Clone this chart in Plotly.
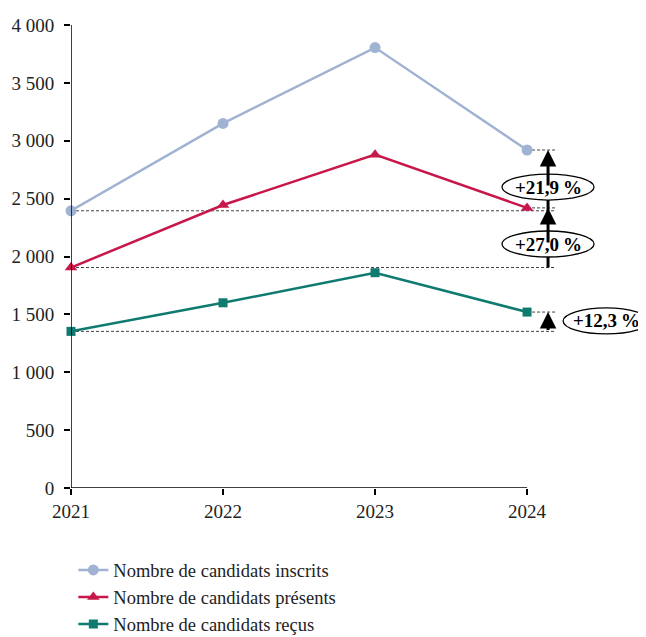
import plotly.graph_objects as go

years = ["2021", "2022", "2023", "2024"]
inscrits = [2395, 3150, 3805, 2920]
presents = [1905, 2445, 2880, 2420]
recus = [1353, 1600, 1860, 1520]

pct_labels = ["+21,9\u202f%", "+27,0\u202f%", "+12,3\u202f%"]

y_ticks = [0, 500, 1000, 1500, 2000, 2500, 3000, 3500, 4000]
y_ticktext = ["0", "500", "1 000", "1 500", "2 000", "2 500", "3 000", "3 500", "4 000"]

C_INS = "#A0B3D3"
C_PRE = "#C8174A"
C_REC = "#0E7A70"
FONT = "Liberation Serif"

fig = go.Figure()

series = [
    ("Nombre de candidats inscrits", inscrits, C_INS, "circle", 11),
    ("Nombre de candidats présents", presents, C_PRE, "triangle-up", 11),
    ("Nombre de candidats reçus", recus, C_REC, "square", 9),
]

# page body adds an 8px offset, margins are reduced to compensate
X_MAX = 3.835
X_ARROW = 3.138
X_DASH_END = 3.184
shapes = []
# axis lines drawn by hand so the x axis stops at 2024
shapes.append(dict(type="line", xref="x", yref="y", x0=0, x1=3, y0=0, y1=0,
                   line=dict(color="black", width=1.5), layer="above"))
shapes.append(dict(type="line", xref="x", yref="y", x0=0, x1=0, y0=0, y1=4000,
                   line=dict(color="black", width=1.5), layer="above"))

# dashed reference lines (start level across, end level short)
for _, vals, _, _, _ in series:
    shapes.append(dict(type="line", xref="x", yref="y", x0=0, x1=X_DASH_END,
                       y0=vals[0], y1=vals[0], line=dict(color="#444444", width=1, dash="3px,2px"),
                       layer="below"))
    shapes.append(dict(type="line", xref="x", yref="y", x0=3, x1=X_DASH_END,
                       y0=vals[-1], y1=vals[-1], line=dict(color="#444444", width=1, dash="3px,2px"),
                       layer="below"))

for name, vals, col, sym, sz in series:
    fig.add_trace(go.Scatter(
        x=[0, 1, 2, 3], y=vals, name=name, mode="lines+markers",
        line=dict(color=col, width=2.5),
        marker=dict(symbol=sym, size=sz, color=col),
        cliponaxis=False,
    ))

annotations = []
label_pos = [(X_ARROW, 2600), (X_ARROW, 2108), (3.52, 1443)]
for i, (_, vals, _, _, _) in enumerate(series):
    lx, ly = label_pos[i]
    if i < 2:
        shapes.append(dict(type="line", xref="x", yref="y", x0=X_ARROW, x1=X_ARROW,
                           y0=vals[0], y1=ly, line=dict(color="black", width=3)))
        annotations.append(dict(x=X_ARROW, y=vals[-1], ax=X_ARROW, ay=ly, xref="x", yref="y",
                                axref="x", ayref="y", text="", showarrow=True, arrowhead=2,
                                arrowsize=1.1, arrowwidth=3, arrowcolor="black", standoff=0))
    else:
        annotations.append(dict(x=X_ARROW, y=vals[-1], ax=X_ARROW, ay=vals[0], xref="x", yref="y",
                                axref="x", ayref="y", text="", showarrow=True, arrowhead=2,
                                arrowsize=1.1, arrowwidth=3, arrowcolor="black", standoff=0))
    w = 46 if i < 2 else 43
    shapes.append(dict(type="circle", xref="x", yref="y", xsizemode="pixel", ysizemode="pixel",
                       xanchor=lx, yanchor=ly, x0=-w, x1=w, y0=-13, y1=13,
                       fillcolor="white", line=dict(color="black", width=1.3), layer="above"))
    annotations.append(dict(x=lx, y=ly, xref="x", yref="y", text="<b>%s</b>" % pct_labels[i],
                            showarrow=False, font=dict(family=FONT, size=19, color="black")))

fig.update_layout(
    width=646, height=637,
    margin=dict(l=63, r=0, t=17, b=157, autoexpand=False),
    paper_bgcolor="white", plot_bgcolor="white",
    font=dict(family=FONT, size=19, color="#222222"),
    showlegend=True,
    legend=dict(x=0.004, y=-0.137, xanchor="left", yanchor="top", orientation="v",
                font=dict(family=FONT, size=18.5, color="#222222"), tracegroupgap=0,
                bgcolor="rgba(0,0,0,0)"),
    shapes=shapes,
    annotations=annotations,
)
fig.update_xaxes(range=[0, X_MAX], tickvals=[0, 1, 2, 3], ticktext=years, showgrid=False,
                 zeroline=False, showline=False, automargin=False,
                 ticks="outside", ticklen=6, tickcolor="black", tickwidth=1.5)
fig.update_yaxes(range=[0, 4000], tickvals=y_ticks, ticktext=y_ticktext, showgrid=False,
                 zeroline=False, showline=False, automargin=False, ticklabelstandoff=6,
                 ticks="outside", ticklen=6, tickcolor="black", tickwidth=1.5)

fig.write_html("out.html")
